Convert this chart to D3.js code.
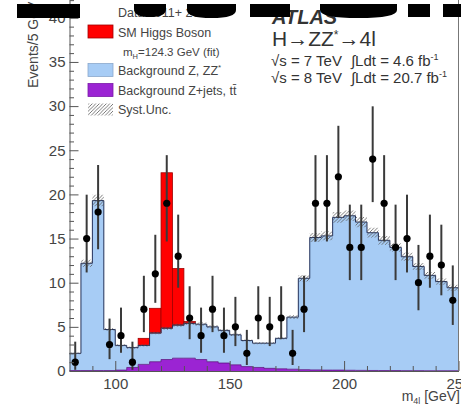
<!DOCTYPE html>
<html><head><meta charset="utf-8">
<script src="https://cdn.jsdelivr.net/npm/d3@7"></script>
<style>body{margin:0;background:#fff}svg{display:block}</style>
</head><body>
<svg id="c" width="461" height="412"></svg>
<script>
// ---------- data ----------
const binLow = d3.range(80, 250, 5);          // bin lower edges (GeV)
const binWidth = 5;
const zzBkg = [1.95,12.15,19.25,4.65,2.8,2.25,2.15,3.25,3.55,3.75,3.95,4.0,3.95,3.7,3.4,2.95,2.75,2.85,3.45,5.9,
               10.35,15.0,15.2,17.3,17.5,16.8,15.6,14.75,13.95,12.9,11.8,10.8,10.1,9.4];
const zjetsBkg = [0.05,0.05,0.05,0.05,0.1,0.4,0.75,1.05,1.3,1.45,1.45,1.3,1.05,0.9,0.7,0.5,0.4,0.3,0.25,0.2,
                  0.15,0.12,0.1,0.1,0.08,0.07,0.06,0.05,0.05,0.04,0.04,0.03,0.03,0.03];
const higgs = [0,0,0,0,0,0.05,0.8,2.8,17.6,6.4,0.2,0.05,0,0,0,0,0,0,0,0,
               0,0,0,0,0,0,0,0,0,0,0,0,0,0];
const dataCounts = [1,15,18,3,4,1,7,11,19,13,6,4,7,4,5,2,6,5,6,2,7,19,19,22,14,14,24,19,14,15,10,13,12,8];
const systUnc = [0.1,0.4,0.65,0.15,0.12,0.12,0.12,0.15,0.17,0.18,0.18,0.18,0.17,0.16,0.14,0.12,0.12,0.12,0.13,0.22,
                 0.35,0.5,0.5,0.6,0.6,0.58,0.55,0.5,0.48,0.45,0.4,0.37,0.35,0.33];
const xMajorTicks = [100,150,200,250];
const xMinorTicks = [90,110,120,130,140,160,170,180,190,210,220,230,240];
const yMajorTicks = [0,5,10,15,20,25,30,35,40];
const yMinorTicks = d3.range(0, 43, 1).filter(v => v % 5 !== 0);

// ---------- setup ----------
const FONT = "'Liberation Sans', Arial, Helvetica, sans-serif";
const svg = d3.select('#c');
const x = d3.scaleLinear().domain([80, 250]).range([69.5, 458.5]);
const y = d3.scaleLinear().domain([0, 42]).range([371, 371 - 42 * 8.83]);

const COL_BLUE = '#a7ccf5', COL_PURPLE = '#9b24d3', COL_RED = '#ff0000';

const defs = svg.append('defs');
const pat = defs.append('pattern').attr('id', 'hatch').attr('patternUnits', 'userSpaceOnUse')
  .attr('width', 3.5).attr('height', 3.5);
pat.append('path').attr('d', 'M-1,1 l2,-2 M0,3.5 l3.5,-3.5 M2.5,4.5 l2,-2')
  .attr('stroke', '#5a5a5a').attr('stroke-width', 0.8);

const rows = binLow.map((lo, i) => ({lo, hi: lo + binWidth, zjets: zjetsBkg[i], zz: zzBkg[i], higgs: higgs[i]}));
const stack = d3.stack().keys(['zjets', 'zz', 'higgs'])(rows);

const stepPts = s => s.flatMap(d => [{x: d.data.lo, y0: d[0], y1: d[1]}, {x: d.data.hi, y0: d[0], y1: d[1]}]);
const area = d3.area().x(p => x(p.x)).y0(p => y(p.y0)).y1(p => y(p.y1));
const line = d3.line().x(p => x(p.x)).y(p => y(p.y1));

const plot = svg.append('g');
// purple Z+jets
plot.append('path').attr('d', area(stepPts(stack[0]))).attr('fill', COL_PURPLE);
// blue ZZ
plot.append('path').attr('d', area(stepPts(stack[1]))).attr('fill', COL_BLUE);
// red Higgs
plot.selectAll('rect.sig').data(stack[2].filter(d => d.data.higgs > 0.1)).join('rect')
  .attr('x', d => x(d.data.lo)).attr('width', d => x(d.data.hi) - x(d.data.lo))
  .attr('y', d => y(d[1])).attr('height', d => y(d[0]) - y(d[1]))
  .attr('fill', COL_RED).attr('stroke', '#a00000').attr('stroke-width', 0.8);
// outlines
plot.append('path').attr('d', line(stepPts(stack[0]))).attr('fill', 'none')
  .attr('stroke', '#5a1080').attr('stroke-width', 0.8);
plot.append('path').attr('d', line(stepPts(stack[1]))).attr('fill', 'none')
  .attr('stroke', '#22305a').attr('stroke-width', 1);
// syst band
const bandPts = rows.flatMap((r, i) => {
  const top = r.zz + r.zjets;
  return [{x: r.lo, y0: top - systUnc[i], y1: top + systUnc[i]}, {x: r.hi, y0: top - systUnc[i], y1: top + systUnc[i]}];
});
plot.append('path').attr('d', area(bandPts)).attr('fill', 'url(#hatch)');

// data points
const pts = binLow.map((lo, i) => {
  const n = dataCounts[i];
  return {xc: lo + binWidth / 2, n, lo: n - Math.sqrt(n - 0.25), hi: n + 1 + Math.sqrt(n + 0.75)};
});
const gd = svg.append('g');
gd.selectAll('line').data(pts).join('line')
  .attr('x1', d => x(d.xc)).attr('x2', d => x(d.xc))
  .attr('y1', d => y(d.lo)).attr('y2', d => y(d.hi))
  .attr('stroke', '#3a3a3a').attr('stroke-width', 2);
gd.selectAll('circle').data(pts).join('circle')
  .attr('cx', d => x(d.xc)).attr('cy', d => y(d.n)).attr('r', 3.6).attr('fill', '#000');

// ---------- axes ----------
function styleAxis(g) {
  g.selectAll('line').attr('stroke', '#555').attr('stroke-width', 1);
  g.selectAll('path.domain').attr('stroke', '#555').attr('stroke-width', 1);
  g.selectAll('text').attr('font-family', FONT).attr('font-size', 15).attr('fill', '#444');
}
const gY = svg.append('g').attr('transform', `translate(${x(80)},0)`);
gY.call(d3.axisLeft(y).tickValues(yMajorTicks).tickSize(-9).tickSizeOuter(0).tickPadding(4));
gY.append('g').call(d3.axisLeft(y).tickValues(yMinorTicks).tickSize(-4.5).tickFormat('')).select('.domain').remove();
styleAxis(gY);

const gX = svg.append('g').attr('transform', `translate(0,${y(0)})`);
gX.call(d3.axisBottom(x).tickValues(xMajorTicks).tickSize(-10).tickSizeOuter(0).tickPadding(7));
gX.append('g').call(d3.axisBottom(x).tickValues(xMinorTicks).tickSize(-5).tickFormat('')).select('.domain').remove();
styleAxis(gX);

// right frame
svg.append('line').attr('x1', x(250)).attr('x2', x(250)).attr('y1', 0).attr('y2', y(0))
  .attr('stroke', '#777').attr('stroke-width', 1);

// axis titles
const xt = svg.append('text').attr('x', 460).attr('y', 401).attr('text-anchor', 'end')
  .attr('font-family', FONT).attr('font-size', 14).attr('fill', '#444');
xt.append('tspan').text('m');
xt.append('tspan').attr('font-size', 9).attr('dy', 3).text('4l');
xt.append('tspan').attr('dy', -3).text(' [GeV]');

svg.append('text').attr('transform', 'translate(38,88) rotate(-90)')
  .attr('font-family', FONT).attr('font-size', 14).attr('fill', '#444').text('Events/5 GeV');

// ---------- legend ----------
const lg = svg.append('g').attr('font-family', FONT).attr('fill', '#444').attr('font-size', 12.5);
lg.append('text').attr('x', 118).attr('y', 17).text('Data 2011+ 2012');
lg.append('rect').attr('x', 88).attr('y', 25).attr('width', 25).attr('height', 13)
  .attr('fill', COL_RED).attr('stroke', '#a00000').attr('stroke-width', 0.8);
lg.append('text').attr('x', 118).attr('y', 36.5).text('SM Higgs Boson');
const mh = lg.append('text').attr('x', 123).attr('y', 56).attr('font-size', 11.5);
mh.append('tspan').text('m');
mh.append('tspan').attr('font-size', 7.5).attr('dy', 2.5).text('H');
mh.append('tspan').attr('dy', -2.5).text('=124.3 GeV (fit)');
lg.append('rect').attr('x', 88).attr('y', 63.5).attr('width', 25).attr('height', 13)
  .attr('fill', COL_BLUE).attr('stroke', '#8aa8cc').attr('stroke-width', 0.8);
const bz = lg.append('text').attr('x', 118).attr('y', 75);
bz.append('tspan').text('Background Z, ZZ');
bz.append('tspan').attr('font-size', 8).attr('dy', -5).text('*');
lg.append('rect').attr('x', 88).attr('y', 83.5).attr('width', 25).attr('height', 13)
  .attr('fill', COL_PURPLE).attr('stroke', '#7a1aa8').attr('stroke-width', 0.8);
lg.append('text').attr('x', 118).attr('y', 95).text('Background Z+jets, t\u0074\u0304');
lg.append('rect').attr('x', 88).attr('y', 103.5).attr('width', 25).attr('height', 12)
  .attr('fill', 'url(#hatch)');
lg.append('text').attr('x', 118).attr('y', 113.5).text('Syst.Unc.');

// ---------- labels ----------
const lb = svg.append('g').attr('font-family', FONT).attr('fill', '#333');
lb.append('text').attr('x', 272).attr('y', 24).attr('font-size', 20).attr('font-weight', 'bold')
  .attr('font-style', 'italic').text('ATLAS');
const hz = lb.append('text').attr('x', 272).attr('y', 46).attr('font-size', 21);
hz.append('tspan').text('H\u2192ZZ');
hz.append('tspan').attr('font-size', 12).attr('dy', -7).text('*');
hz.append('tspan').attr('dy', 7).text('\u21924l');
[[66, '7', '4.6'], [83, '8', '20.7']].forEach(([yy, e, l]) => {
  lb.append('text').attr('x', 271).attr('y', yy).attr('font-size', 15).text(`\u221As = ${e} TeV`);
  const t = lb.append('text').attr('x', 351).attr('y', yy).attr('font-size', 15);
  t.append('tspan').text(`\u222BLdt = ${l} fb`);
  t.append('tspan').attr('font-size', 9).attr('dy', -6).text('-1');
});

// ---------- black overlay shapes at the top ----------
const ov = svg.append('g').attr('fill', '#000');
const bowl = (x0, x1, yb) => `M${x0},4 L${x1},4 L${x1},${yb - 8} Q${x1},${yb} ${(x0 + x1) / 2},${yb} Q${x0},${yb} ${x0},${yb - 8} Z`;
ov.append('rect').attr('x', 17).attr('y', 4).attr('width', 63).attr('height', 14);
ov.append('path').attr('d', bowl(134, 166, 17));
ov.append('path').attr('d', bowl(187, 236, 18));
ov.append('rect').attr('x', 250).attr('y', 4).attr('width', 40).attr('height', 13);
ov.append('path').attr('d', bowl(320, 397, 18));
ov.append('rect').attr('x', 408).attr('y', 4).attr('width', 22).attr('height', 13);
ov.append('rect').attr('x', 443).attr('y', 4).attr('width', 18).attr('height', 13);
</script>
</body></html>
